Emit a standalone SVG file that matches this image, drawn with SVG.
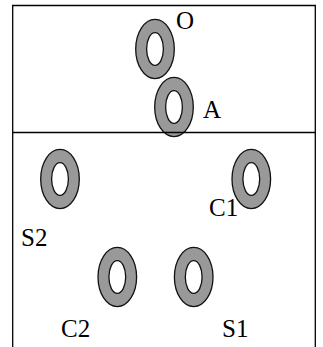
<svg xmlns="http://www.w3.org/2000/svg" width="323" height="347" viewBox="0 0 323 347">
<style>
.ring{fill:#999999;stroke:#111111;stroke-width:1.3}
.hole{fill:#ffffff;stroke:#111111;stroke-width:1.3}
.lbl{font-family:"Liberation Serif","Times New Roman",serif;font-size:25px;fill:#000000}
.frame{fill:none;stroke:#000000;stroke-width:1.3}
</style>
<defs>
<g id="ringshape">
<ellipse class="ring" cx="0" cy="0" rx="19.3" ry="29.6"/>
<ellipse class="hole" cx="0" cy="0" rx="8.4" ry="16.4"/>
</g>
</defs>
<rect x="0" y="0" width="323" height="347" fill="#ffffff"/>
<g id="node-O">
<text class="lbl" x="176" y="29" font-family="Liberation Serif, serif">O</text>
<use href="#ringshape" x="155" y="49"/>
</g>
<g id="node-A">
<text class="lbl" x="203" y="118" font-family="Liberation Serif, serif">A</text>
<use href="#ringshape" x="174" y="107"/>
</g>
<g id="node-S2">
<text class="lbl" x="21" y="246" font-family="Liberation Serif, serif">S2</text>
<use href="#ringshape" x="60" y="179"/>
</g>
<g id="node-C1">
<text class="lbl" x="209" y="216" font-family="Liberation Serif, serif">C1</text>
<use href="#ringshape" x="251.3" y="179"/>
</g>
<g id="node-C2">
<text class="lbl" x="61" y="337" font-family="Liberation Serif, serif">C2</text>
<use href="#ringshape" x="117.3" y="277"/>
</g>
<g id="node-S1">
<text class="lbl" x="222" y="337" font-family="Liberation Serif, serif">S1</text>
<use href="#ringshape" x="193.7" y="277"/>
</g>
<g id="connectors"></g>
<g id="frame">
<polyline class="frame" points="12.7,360 12.7,5.5 315.3,5.5 315.3,360"/>
<line class="frame" x1="12.7" y1="132.5" x2="315.3" y2="132.5"/>
</g>
</svg>
